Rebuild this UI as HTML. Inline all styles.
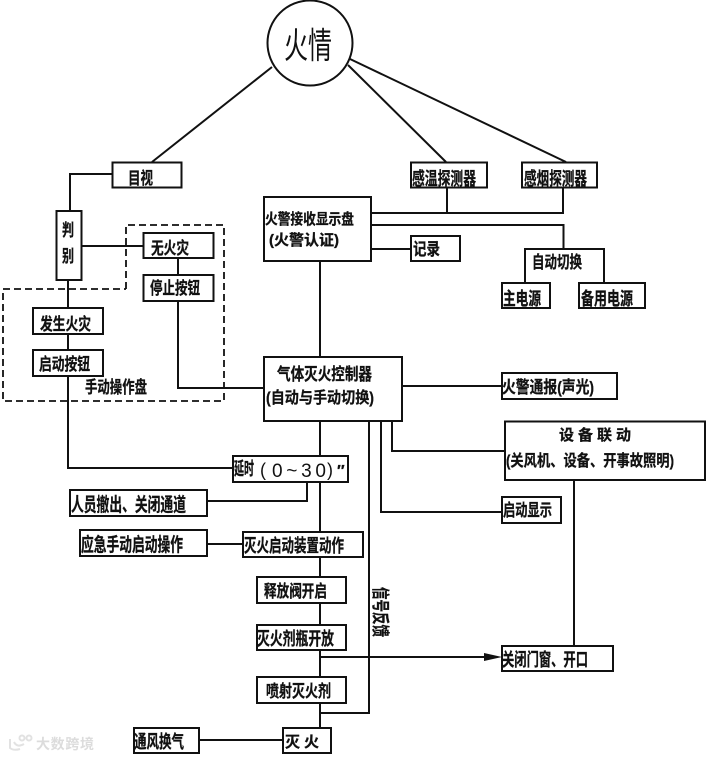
<!DOCTYPE html>
<html><head><meta charset="utf-8"><style>
html,body{margin:0;padding:0;background:#fff}
svg{display:block;filter:blur(.35px)}
text{font-family:"Liberation Sans","Noto Sans CJK SC",sans-serif;font-weight:700;fill:#111;stroke:#111;stroke-width:.3px;font-size:17px}
</style></head><body>
<svg width="706" height="758" viewBox="0 0 706 758" xmlns="http://www.w3.org/2000/svg">
<rect width="706" height="758" fill="#fff"/>
<g fill="none" stroke="#111" stroke-width="2">
<circle cx="310" cy="43" r="42.5"/>
<path d="M272 67L152 162M348 65L446 162M350 59L566 162"/>
<path d="M112 174H70V211M68 280V308M68 334V350M68 376V468H233"/>
<path d="M81 246H143M178 258V275M178 301V388H264"/>
<path d="M371 213H563V187M447 187V213M371 225H563.500V249M371 249H411"/>
<path d="M525 282V249H604V283"/>
<path d="M320 261V357M402 386H502M392 421V451H505M381 421V512H502M369 421V713H320"/>
<path d="M320 421V456M320 482V532M320 557V577M320 603V625M320 650V677M320 703V728"/>
<path d="M307 482V501H207M207 544H243M199 740H283M574 480V646M320 657H490"/>
<path stroke-width="1.8" stroke-dasharray="7 4" d="M126 289V225H224V401H3V289H126"/>
<g stroke-width="2" fill="#fff">
<rect x="112.500" y="162.500" width="69" height="25"/>
<rect x="56.500" y="211" width="25" height="69"/>
<rect x="143.500" y="233" width="70" height="25"/>
<rect x="143.500" y="275" width="70" height="26"/>
<rect x="33" y="308" width="70" height="26"/>
<rect x="33" y="350" width="70" height="26"/>
<rect x="264" y="197" width="107" height="64"/>
<rect x="264" y="357" width="138" height="64"/>
<rect x="411" y="162.500" width="76" height="25"/>
<rect x="522" y="162.500" width="75" height="25"/>
<rect x="411" y="236" width="49" height="25"/>
<rect x="502" y="283" width="48" height="25"/>
<rect x="579" y="283" width="66" height="25"/>
<rect x="502" y="373" width="115" height="26"/>
<rect x="505" y="421.500" width="200" height="58.500"/>
<rect x="233" y="456" width="115" height="26"/>
<rect x="70" y="490" width="137" height="26"/>
<rect x="80" y="530" width="127" height="26"/>
<rect x="243" y="532" width="120" height="25"/>
<rect x="257" y="577" width="89" height="26"/>
<rect x="257" y="625" width="89" height="25"/>
<rect x="257" y="677" width="89" height="26"/>
<rect x="283" y="728" width="48" height="25"/>
<rect x="134" y="728" width="65" height="25"/>
<rect x="502" y="497" width="59" height="26"/>
<rect x="502" y="646" width="111" height="25"/>
</g>
</g>
<path d="M484 653L502 657L484 661Z" fill="#111"/>
<text x="284" y="58" style="font-size:36px;font-weight:400;stroke-width:0" textLength="48" lengthAdjust="spacingAndGlyphs">火情</text>
<text x="128" y="184" textLength="25" lengthAdjust="spacingAndGlyphs">目视</text>
<text x="62" y="236" textLength="12" lengthAdjust="spacingAndGlyphs">判</text>
<text x="62" y="262" textLength="12" lengthAdjust="spacingAndGlyphs">别</text>
<text x="151" y="254" textLength="38" lengthAdjust="spacingAndGlyphs">无火灾</text>
<text x="150" y="294" textLength="50" lengthAdjust="spacingAndGlyphs">停止按钮</text>
<text x="40" y="330" textLength="51" lengthAdjust="spacingAndGlyphs">发生火灾</text>
<text x="39" y="370" textLength="51" lengthAdjust="spacingAndGlyphs">启动按钮</text>
<text x="85" y="393" textLength="62" lengthAdjust="spacingAndGlyphs">手动操作盘</text>
<text x="265" y="224" style="font-size:15px" textLength="89" lengthAdjust="spacingAndGlyphs">火警接收显示盘</text>
<text x="269" y="245" style="font-size:15px" textLength="70" lengthAdjust="spacingAndGlyphs">(火警认证)</text>
<text x="277" y="380" textLength="95" lengthAdjust="spacingAndGlyphs">气体灭火控制器</text>
<text x="266" y="403" style="font-size:16px" textLength="108" lengthAdjust="spacingAndGlyphs">(自动与手动切换)</text>
<text x="412" y="185" style="font-size:18px" textLength="64" lengthAdjust="spacingAndGlyphs">感温探测器</text>
<text x="524" y="185" style="font-size:18px" textLength="63" lengthAdjust="spacingAndGlyphs">感烟探测器</text>
<text x="413" y="255" textLength="27" lengthAdjust="spacingAndGlyphs">记录</text>
<text x="532" y="268" textLength="50" lengthAdjust="spacingAndGlyphs">自动切换</text>
<text x="503" y="305" style="font-size:18px" textLength="38" lengthAdjust="spacingAndGlyphs">主电源</text>
<text x="581" y="305" style="font-size:18px" textLength="52" lengthAdjust="spacingAndGlyphs">备用电源</text>
<text x="502" y="393" textLength="92" lengthAdjust="spacingAndGlyphs">火警通报(声光)</text>
<text x="559 578 597 616" y="440" style="font-size:15px">设备联动</text>
<text x="506" y="466" style="font-size:16px" textLength="168" lengthAdjust="spacingAndGlyphs">(关风机、设备、开事故照明)</text>
<text x="234" y="475" style="font-size:18px" textLength="20" lengthAdjust="spacingAndGlyphs">延时</text>
<text x="260" y="476" style="font-weight:400;font-size:18px;stroke-width:0">(</text>
<text x="272" y="477" style="font-weight:400;font-size:19px;stroke-width:0" textLength="54" lengthAdjust="spacing">0~30</text>
<text x="327" y="476" style="font-weight:400;font-size:18px;stroke-width:0">)</text>
<text x="337" y="476" style="font-size:16px">″</text>
<text x="71" y="511" style="font-size:19px" textLength="115" lengthAdjust="spacingAndGlyphs">人员撤出、关闭通道</text>
<text x="81" y="551" style="font-size:19px" textLength="102" lengthAdjust="spacingAndGlyphs">应急手动启动操作</text>
<text x="244" y="552" style="font-size:18px" textLength="100" lengthAdjust="spacingAndGlyphs">灭火启动装置动作</text>
<text x="264" y="597" textLength="63" lengthAdjust="spacingAndGlyphs">释放阀开启</text>
<text x="257" y="645" style="font-size:18px" textLength="77" lengthAdjust="spacingAndGlyphs">灭火剂瓶开放</text>
<text x="266" y="697" textLength="65" lengthAdjust="spacingAndGlyphs">喷射灭火剂</text>
<text x="285 304" y="747" style="font-size:15px">灭火</text>
<text x="134" y="748" style="font-size:18px" textLength="50" lengthAdjust="spacingAndGlyphs">通风换气</text>
<text x="503" y="516" textLength="49" lengthAdjust="spacingAndGlyphs">启动显示</text>
<text x="502" y="666" style="font-size:18px" textLength="86" lengthAdjust="spacingAndGlyphs">关闭门窗、开口</text>
<text transform="translate(374,587) rotate(90)" textLength="50" lengthAdjust="spacingAndGlyphs" style="font-size:18px">信号反馈</text>
<g fill="none" stroke="#e2e2e2" stroke-width="2">
<path d="M10 739V748Q14 751 20 749M14 742Q17 748 24 744"/>
<circle cx="22" cy="738" r="2.500"/><circle cx="29" cy="738" r="2.500"/>
</g>
<text x="36" y="749" style="fill:#dcdcdc;stroke:none;font-size:14px" textLength="58" lengthAdjust="spacing">大数跨境</text>
</svg>
</body></html>
